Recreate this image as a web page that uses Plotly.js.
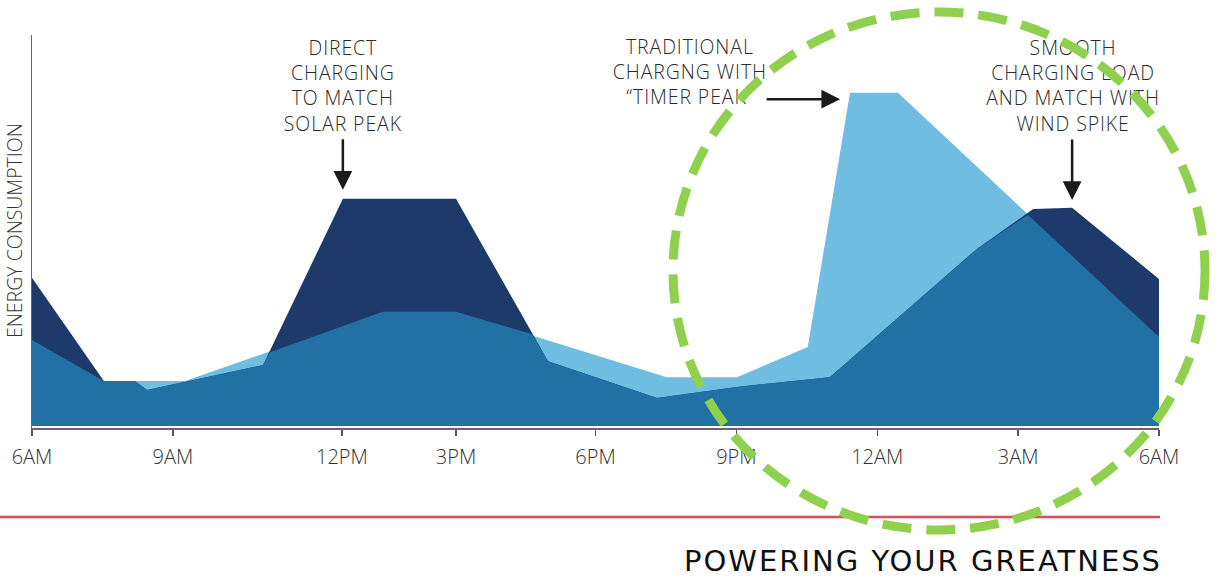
<!DOCTYPE html>
<html>
<head>
<meta charset="utf-8">
<script src="https://cdn.plot.ly/plotly-3.0.1.min.js"></script>
<style>
  html, body { margin: 0; padding: 0; background: #fff; }
  #chart { width: 1221px; height: 578px; }
  .annotation[data-index="4"] text { letter-spacing: 2px; }
  .textpoint text { letter-spacing: 0.9px; }
</style>
</head>
<body>
<div id="chart"></div>
<script>
// hours after 6AM, load in arbitrary units (0..100)
var hoursTraditional = [0, 1.53, 3.26, 7.47, 9.03, 13.52, 15.01, 16.52, 17.42, 18.44, 24];
var loadTraditional  = [22.0, 11.5, 11.5, 29.2, 29.2, 12.5, 12.5, 20.2, 85.2, 85.2, 22.8];

var hoursSmart = [0, 1.53, 2.19, 2.45, 4.92, 6.62, 9.03, 10.65, 10.99, 13.31, 15.01, 16.99, 20.12, 21.32, 22.15, 24];
var loadSmart  = [37.9, 11.5, 11.5, 9.2, 15.6, 58.1, 58.1, 23.5, 16.6, 7.2, 10.0, 12.5, 45.3, 55.5, 55.8, 37.6];

// part covered by both curves
var hoursShared = [0, 1.53, 2.19, 2.45, 4.92, 5.07, 7.47, 9.03, 10.65, 10.99, 13.31, 15.01, 16.99, 20.12, 21.21, 24];
var loadShared  = [22.0, 11.5, 11.5, 9.2, 15.6, 18.9, 29.2, 29.2, 23.5, 16.6, 7.2, 10.0, 12.5, 45.3, 54.0, 22.8];

var tickHours  = [0, 3, 6.6, 9.03, 12, 15, 18, 21, 24];
var tickLabels = ['6AM', '9AM', '12PM', '3PM', '6PM', '9PM', '12AM', '3AM', '6AM'];

var noteHours  = [6.62, 14.01, 22.17];
var noteLevels = [86.5, 90.0, 86.5];
var noteTexts  = [
  'DIRECT<br>CHARGING<br>TO MATCH<br>SOLAR PEAK',
  'TRADITIONAL<br>CHARGNG WITH<br>\u201CTIMER PEAK\u201D',
  'SMOOTH<br>CHARGING LOAD<br>AND MATCH WITH<br>WIND SPIKE'
];

// plot box in page pixels
var plotL = 32, plotR = 1159, plotT = 35, plotB = 428;
function px(x) { return (x - plotL) / (plotR - plotL); }
function py(y) { return (plotB - y) / (plotB - plotT); }

var textFont = {family: 'Open Sans, sans-serif', size: 19.5, color: '#2a2a2a', weight: 300};

var traditionalTrace = {
  x: hoursTraditional, y: loadTraditional,
  type: 'scatter', mode: 'lines', fill: 'tozeroy',
  line: {width: 0, color: '#70bde2'}, fillcolor: '#70bde2'
};
var smartTrace = {
  x: hoursSmart, y: loadSmart,
  type: 'scatter', mode: 'lines', fill: 'tozeroy',
  line: {width: 0, color: '#1e3a6b'}, fillcolor: '#1e3a6b'
};
var sharedTrace = {
  x: hoursShared, y: loadShared,
  type: 'scatter', mode: 'lines', fill: 'tozeroy',
  line: {width: 0, color: '#2171a4'}, fillcolor: '#2171a4'
};
var notesTrace = {
  x: noteHours, y: noteLevels, text: noteTexts,
  type: 'scatter', mode: 'text', textposition: 'middle center',
  textfont: textFont, cliponaxis: false
};

var arrowStyle = {xref: 'x', yref: 'y', axref: 'pixel', ayref: 'pixel', text: '', showarrow: true,
  arrowhead: 2, arrowsize: 1.5, arrowwidth: 2.5, arrowcolor: '#1a1a1a', standoff: 0};

var layout = {
  width: 1221, height: 578,
  margin: {l: plotL, r: 1221 - plotR, t: plotT, b: 578 - plotB, pad: 0},
  paper_bgcolor: '#fff', plot_bgcolor: '#fff',
  showlegend: false,
  xaxis: {
    range: [0, 24], showgrid: false, zeroline: false,
    showline: true, linecolor: '#666', linewidth: 1.5,
    ticks: 'outside', ticklen: 6, tickwidth: 1.5, tickcolor: '#555',
    tickmode: 'array', tickvals: tickHours, ticktext: tickLabels, ticklabelstandoff: 4,
    tickfont: {family: 'Open Sans, sans-serif', size: 20, color: '#333', weight: 300}
  },
  yaxis: {
    range: [-0.5, 100], showgrid: false, zeroline: false,
    showline: true, linecolor: '#666', linewidth: 1.5,
    showticklabels: false, ticks: ''
  },
  shapes: [
    {type: 'line', xref: 'paper', yref: 'paper', x0: px(0), x1: px(1160), y0: py(517), y1: py(517),
      line: {color: '#d6505b', width: 2.5}, layer: 'above'},
    {type: 'circle', xref: 'paper', yref: 'paper', x0: px(673), x1: px(1205), y0: py(530), y1: py(12),
      line: {color: '#8fd14f', width: 9, dash: '29px,15px'}, layer: 'above'}
  ],
  annotations: [
    Object.assign({x: 6.62, y: 60.4, ax: 0, ay: -52}, arrowStyle),
    Object.assign({x: 17.21, y: 83.6, ax: -75, ay: 0}, arrowStyle),
    Object.assign({x: 22.15, y: 57.8, ax: 0, ay: -62}, arrowStyle),
    {xref: 'paper', yref: 'paper', x: px(14), y: py(231), xanchor: 'center', yanchor: 'middle',
      text: 'ENERGY CONSUMPTION', textangle: -90, showarrow: false,
      font: {family: 'Open Sans, sans-serif', size: 19.5, color: '#333', weight: 300}},
    {xref: 'paper', yref: 'paper', x: px(1141), y: py(561), xanchor: 'right', yanchor: 'middle',
      text: 'POWERING YOUR GREATNESS', showarrow: false,
      font: {family: 'DejaVu Sans, sans-serif', size: 29, color: '#111'}}
  ]
};

Plotly.newPlot('chart', [traditionalTrace, smartTrace, sharedTrace, notesTrace], layout,
  {displayModeBar: false, staticPlot: true});
</script>
</body>
</html>
